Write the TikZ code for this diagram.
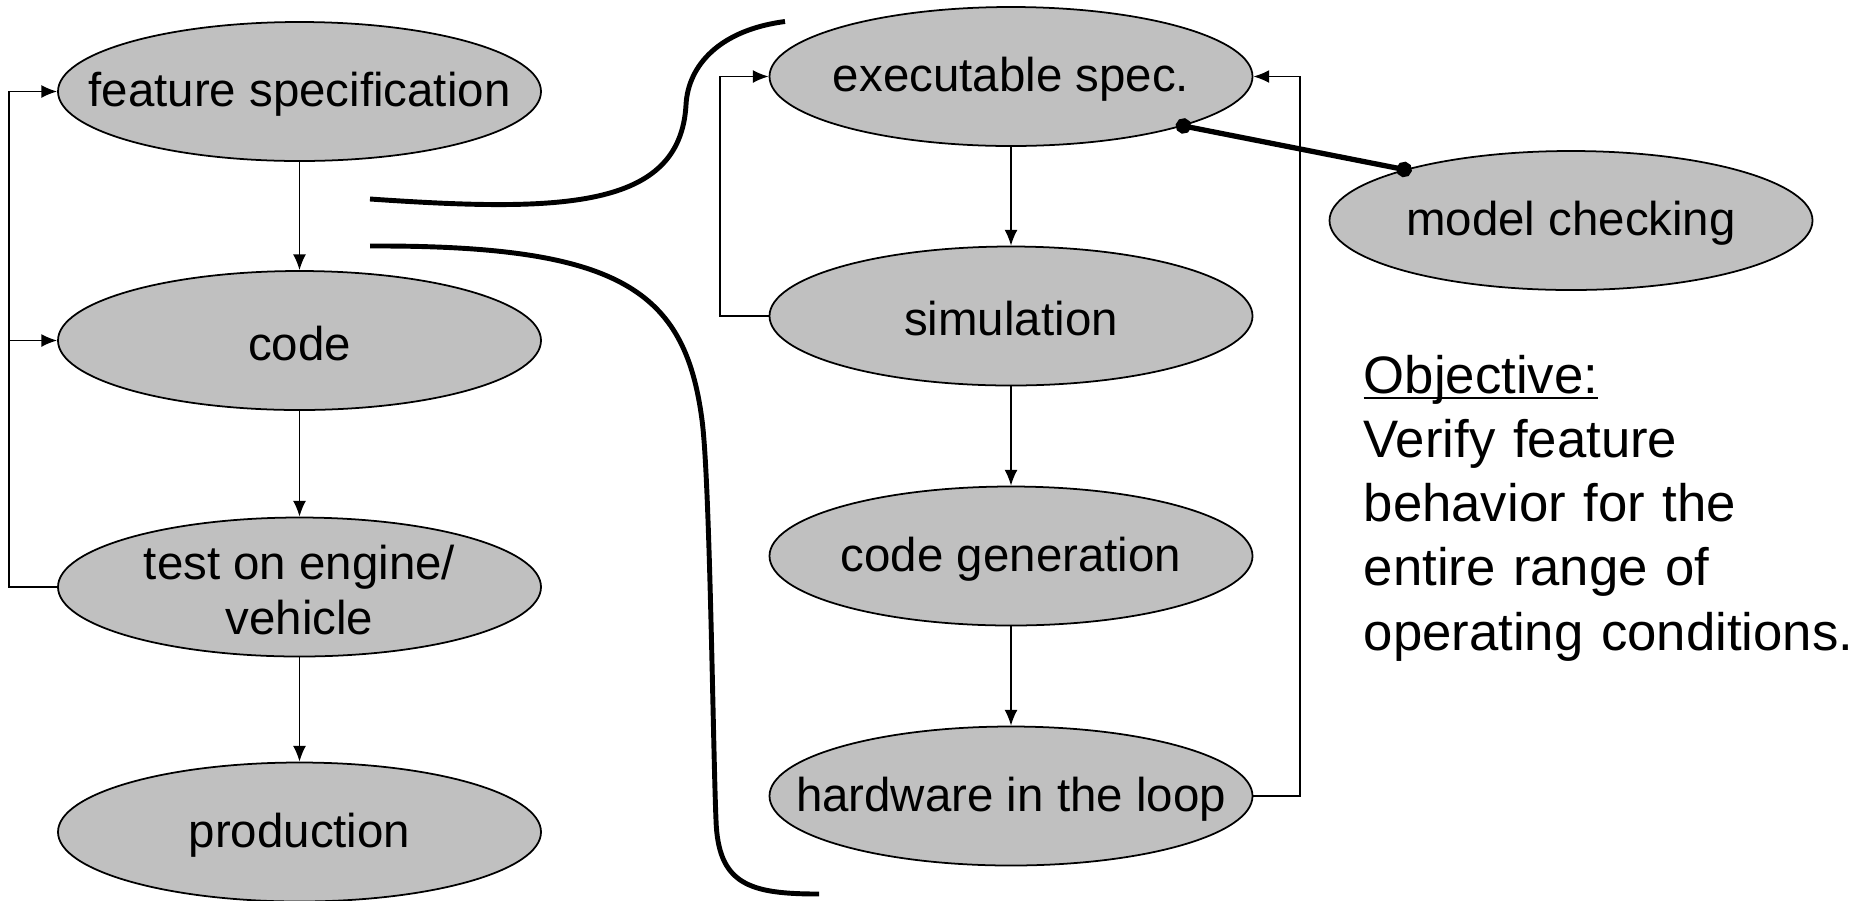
\documentclass[tikz,border=0pt]{standalone}
\usepackage{fontspec}
\setmainfont{Liberation Sans}
\usetikzlibrary{shapes.geometric,arrows.meta}
\definecolor{stagegray}{RGB}{192,192,192}

\tikzset{
	stage/.style={draw, ellipse, fill=stagegray, line width=0.5pt, minimum width=4.83cm, minimum height=1.39cm, label={[stagetext]center:#1}},
	stagetext/.style={align=center, yshift=-0.03cm, font=\fontsize{13.5pt}{15.9pt}\selectfont},
	flow/.style={->, >={Latex[length=4.5pt,width=3.7pt]}, line width=0.45pt},
	zoom/.style={line width=1.4pt},
	link/.style={line width=1.5pt, {Circle[length=4.4pt]}-{Circle[length=4.4pt]}, shorten <=-2.2pt, shorten >=-2.2pt},
	objtext/.style={text width=5.3cm, align=left, inner sep=0pt, font=\fontsize{15pt}{18.3pt}\selectfont}
}

\begin{document}
\begin{tikzpicture}
	\useasboundingbox (0,0) rectangle (18.74,-9);

	% overall process
	\node[stage={feature specification}] (fspec) at (2.995,-0.915) {};
	\node[stage={code}] (code) at (2.995,-3.405) {};
	\node[stage={test on engine/\\vehicle}] (test) at (2.995,-5.87) {};
	\node[stage={production}] (prod) at (2.995,-8.32) {};
	\draw[flow] (fspec) -- (code);
	\draw[flow] (code) -- (test);
	\draw[flow] (test) -- (prod);
	\draw[flow] (test.west) -- ++(-0.48,0) |- (fspec.west);
	\draw[flow] (test.west) -- ++(-0.48,0) |- (code.west);

	% detailed steps
	\node[stage={executable spec.}] (exec) at (10.11,-0.765) {};
	\node[stage={simulation}] (sim) at (10.11,-3.16) {};
	\node[stage={code generation}] (cgen) at (10.11,-5.56) {};
	\node[stage={hardware in the loop}] (hil) at (10.11,-7.96) {};
	\draw[flow] (exec) -- (sim);
	\draw[flow] (sim) -- (cgen);
	\draw[flow] (cgen) -- (hil);
	\draw[flow] (sim.west) -- ++(-0.485,0) |- (exec.west);
	\draw[flow] (hil.east) -- ++(0.465,0) |- (exec.east);

	\node[stage={model checking}] (mc) at (15.71,-2.205) {};
	\draw[link] (exec.-16) -- (mc.163);

	% zoom brackets
	\draw[zoom] (3.70,-1.99) .. controls (5.6,-2.12) and (6.8,-2.1) .. (6.86,-1.05)
		.. controls (6.88,-0.65) and (7.2,-0.3) .. (7.85,-0.215);
	\draw[zoom] (3.70,-2.46) .. controls (6.2,-2.45) and (6.85,-2.9) .. (7.02,-4.2)
		.. controls (7.10,-4.8) and (7.13,-7.5) .. (7.16,-8.2)
		.. controls (7.18,-8.85) and (7.5,-8.94) .. (8.19,-8.94);

	\node[objtext, anchor=base west] (goal) at (13.63,-3.93) {\underline{\smash{Objective:}}\\Verify feature\\behavior for the\\entire range of\\operating conditions.};
\end{tikzpicture}
\end{document}
